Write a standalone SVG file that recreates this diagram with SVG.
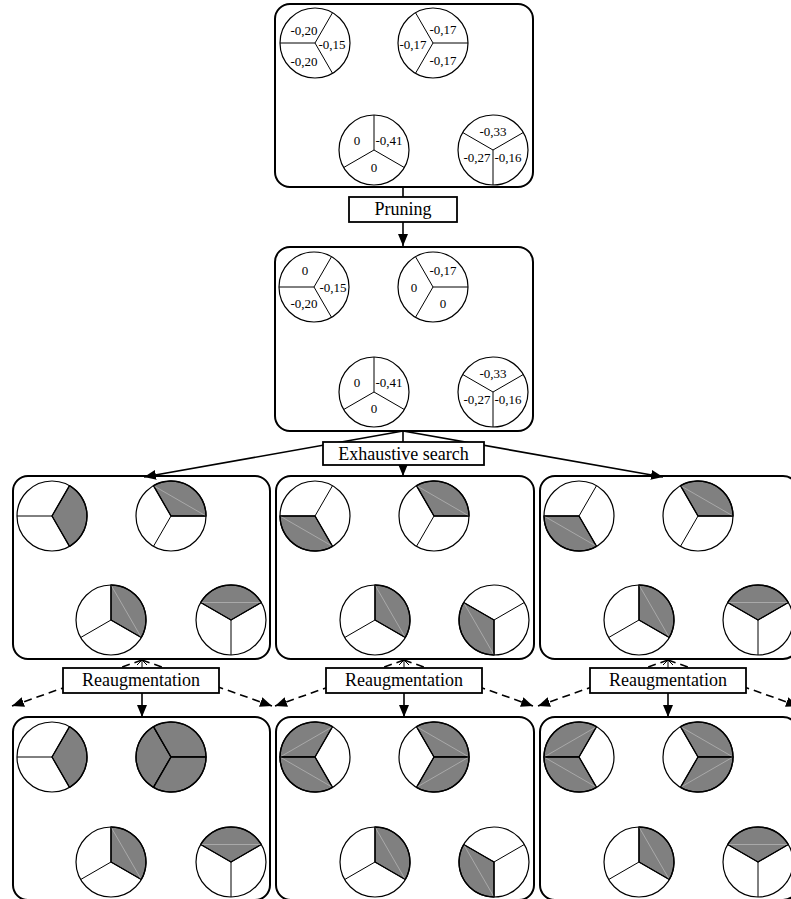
<svg xmlns="http://www.w3.org/2000/svg" width="791" height="899" viewBox="0 0 791 899">
<style>
.box{fill:none;stroke:#000;stroke-width:2}
.lbox{fill:#fff;stroke:#000;stroke-width:1.8}
.lt{font-family:"Liberation Serif","Times New Roman",serif;font-size:18px;text-anchor:middle;fill:#000}
.num{font-family:"Liberation Serif","Times New Roman",serif;font-size:13px;text-anchor:middle;fill:#000}
.dk{fill:#fff;stroke:none}
.rg{fill:none;stroke:#000;stroke-width:1.2}
.ln{fill:none;stroke:#000;stroke-width:1}
.sh{fill:#808080;stroke:#000;stroke-width:1.4;stroke-linejoin:round}
.ch{fill:none;stroke:#c4c4c4;stroke-width:0.6}
.cn{fill:none;stroke:#000;stroke-width:1.6}
.dash{fill:none;stroke:#000;stroke-width:1.6;stroke-dasharray:8,5}
</style>
<defs>
<marker id="ah" viewBox="0 0 12 10" refX="12" refY="5" markerWidth="12" markerHeight="10" markerUnits="userSpaceOnUse" orient="auto"><path d="M0,0 L12,5 L0,10 z" fill="#000" stroke="none"/></marker>
<circle id="disk" r="35"/>
<circle id="ring" r="35"/>
<path id="A_TL" d="M0,0 L-35,0 A35,35 0 0,1 17.5,-30.31 Z"/>
<path id="A_R" d="M0,0 L17.5,-30.31 A35,35 0 0,1 17.5,30.31 Z"/>
<path id="A_BL" d="M0,0 L17.5,30.31 A35,35 0 0,1 -35,0 Z"/>
<path id="B_L" d="M0,0 L-17.5,30.31 A35,35 0 0,1 -17.5,-30.31 Z"/>
<path id="B_TR" d="M0,0 L-17.5,-30.31 A35,35 0 0,1 35,0 Z"/>
<path id="B_BR" d="M0,0 L35,0 A35,35 0 0,1 -17.5,30.31 Z"/>
<path id="C_R" d="M0,0 L0,-35 A35,35 0 0,1 30.31,17.5 Z"/>
<path id="D_T" d="M0,0 L-30.31,-17.5 A35,35 0 0,1 30.31,-17.5 Z"/>
<path id="D_BL" d="M0,0 L0,35 A35,35 0 0,1 -30.31,-17.5 Z"/>
<path id="lA" d="M0,0 L-35,0 M0,0 L17.5,-30.31 M0,0 L17.5,30.31"/>
<path id="lB" d="M0,0 L35,0 M0,0 L-17.5,-30.31 M0,0 L-17.5,30.31"/>
<path id="lC" d="M0,0 L0,-35 M0,0 L-30.31,17.5 M0,0 L30.31,17.5"/>
<path id="lD" d="M0,0 L0,35 M0,0 L-30.31,-17.5 M0,0 L30.31,-17.5"/>
<path id="cA_TL" d="M-35,0 L17.5,-30.31"/>
<path id="cA_BL" d="M17.5,30.31 L-35,0"/>
<path id="cB_TR" d="M-17.5,-30.31 L35,0"/>
<path id="cB_BR" d="M35,0 L-17.5,30.31"/>
<path id="cC_R" d="M0,-35 L30.31,17.5"/>
<path id="cD_T" d="M-30.31,-17.5 L30.31,-17.5"/>
<path id="cD_BL" d="M0,35 L-30.31,-17.5"/>
</defs>

<g id="connectors">
<line class="cn" x1="403" y1="187" x2="403" y2="197"/>
<line class="cn" x1="403" y1="222" x2="403" y2="246" marker-end="url(#ah)"/>
<line class="cn" x1="403" y1="431" x2="144" y2="477" marker-end="url(#ah)"/>
<line class="cn" x1="403" y1="431" x2="403" y2="476" marker-end="url(#ah)"/>
<line class="cn" x1="403" y1="431" x2="663" y2="477" marker-end="url(#ah)"/>
<line class="cn" x1="142" y1="693" x2="142" y2="717" marker-end="url(#ah)"/>
<line class="cn" x1="404" y1="693" x2="404" y2="717" marker-end="url(#ah)"/>
<line class="cn" x1="668" y1="693" x2="668" y2="717" marker-end="url(#ah)"/>
<path class="ln" d="M137,665 L142,660 L147,665 M142,660 L142,668"/>
<path class="ln" d="M399,665 L404,660 L409,665 M404,660 L404,668"/>
<path class="ln" d="M663,665 L668,660 L673,665 M668,660 L668,668"/>
<line class="dash" x1="142" y1="660" x2="12" y2="706" marker-end="url(#ah)"/>
<line class="dash" x1="142" y1="660" x2="272" y2="706" marker-end="url(#ah)"/>
<line class="dash" x1="404" y1="660" x2="275" y2="706" marker-end="url(#ah)"/>
<line class="dash" x1="404" y1="660" x2="533" y2="706" marker-end="url(#ah)"/>
<line class="dash" x1="668" y1="660" x2="538" y2="706" marker-end="url(#ah)"/>
<line class="dash" x1="668" y1="660" x2="798" y2="706" marker-end="url(#ah)"/>
</g>

<g id="n-initial">
<rect class="box" x="275" y="4" width="258" height="183" rx="15"/>
<g transform="translate(315,43)"><use class="dk" href="#disk"/><use class="ln" href="#lA"/><use class="rg" href="#ring"/></g>
<g transform="translate(433,43)"><use class="dk" href="#disk"/><use class="ln" href="#lB"/><use class="rg" href="#ring"/></g>
<g transform="translate(374,150)"><use class="dk" href="#disk"/><use class="ln" href="#lC"/><use class="rg" href="#ring"/></g>
<g transform="translate(493,150)"><use class="dk" href="#disk"/><use class="ln" href="#lD"/><use class="rg" href="#ring"/></g>
<text class="num" x="304" y="34.5">-0,20</text>
<text class="num" x="332" y="48.5">-0,15</text>
<text class="num" x="304" y="65.5">-0,20</text>
<text class="num" x="413" y="48.5">-0,17</text>
<text class="num" x="443" y="33.5">-0,17</text>
<text class="num" x="443" y="64.5">-0,17</text>
<text class="num" x="357" y="144.5">0</text>
<text class="num" x="389" y="144.5">-0,41</text>
<text class="num" x="374" y="171.5">0</text>
<text class="num" x="493" y="135.5">-0,33</text>
<text class="num" x="477" y="161.5">-0,27</text>
<text class="num" x="508" y="161.5">-0,16</text>
</g>

<g id="n-pruning">
<rect class="lbox" x="349" y="197" width="108" height="25"/>
<text class="lt" x="403" y="215">Pruning</text>
</g>

<g id="n-pruned">
<rect class="box" x="275" y="247" width="258" height="184" rx="15"/>
<g transform="translate(314,287)"><use class="dk" href="#disk"/><use class="ln" href="#lA"/><use class="rg" href="#ring"/></g>
<g transform="translate(433,287)"><use class="dk" href="#disk"/><use class="ln" href="#lB"/><use class="rg" href="#ring"/></g>
<g transform="translate(374,392)"><use class="dk" href="#disk"/><use class="ln" href="#lC"/><use class="rg" href="#ring"/></g>
<g transform="translate(493,392)"><use class="dk" href="#disk"/><use class="ln" href="#lD"/><use class="rg" href="#ring"/></g>
<text class="num" x="305" y="274.5">0</text>
<text class="num" x="333" y="291.5">-0,15</text>
<text class="num" x="304" y="307.5">-0,20</text>
<text class="num" x="414" y="291.5">0</text>
<text class="num" x="443" y="274.5">-0,17</text>
<text class="num" x="443" y="307.5">0</text>
<text class="num" x="357" y="386.5">0</text>
<text class="num" x="389" y="386.5">-0,41</text>
<text class="num" x="374" y="412.5">0</text>
<text class="num" x="493" y="377.5">-0,33</text>
<text class="num" x="477" y="403.5">-0,27</text>
<text class="num" x="508" y="403.5">-0,16</text>
</g>

<g id="n-exhaustive">
<rect class="lbox" x="323" y="442" width="161" height="23"/>
<text class="lt" x="403.5" y="459.5">Exhaustive search</text>
</g>

<g id="n-search1">
<rect class="box" x="13" y="476" width="257" height="183" rx="15"/>
<g transform="translate(52,516)"><use class="dk" href="#disk"/><use class="sh" href="#A_R"/><use class="ln" href="#lA"/><use class="rg" href="#ring"/></g>
<g transform="translate(171,516)"><use class="dk" href="#disk"/><use class="sh" href="#B_TR"/><use class="ch" href="#cB_TR"/><use class="ln" href="#lB"/><use class="rg" href="#ring"/></g>
<g transform="translate(111,620)"><use class="dk" href="#disk"/><use class="sh" href="#C_R"/><use class="ch" href="#cC_R"/><use class="ln" href="#lC"/><use class="rg" href="#ring"/></g>
<g transform="translate(231,620)"><use class="dk" href="#disk"/><use class="sh" href="#D_T"/><use class="ch" href="#cD_T"/><use class="ln" href="#lD"/><use class="rg" href="#ring"/></g>
</g>

<g id="n-search2">
<rect class="box" x="276" y="476" width="258" height="183" rx="15"/>
<g transform="translate(315,516)"><use class="dk" href="#disk"/><use class="sh" href="#A_BL"/><use class="ch" href="#cA_BL"/><use class="ln" href="#lA"/><use class="rg" href="#ring"/></g>
<g transform="translate(434,516)"><use class="dk" href="#disk"/><use class="sh" href="#B_TR"/><use class="ch" href="#cB_TR"/><use class="ln" href="#lB"/><use class="rg" href="#ring"/></g>
<g transform="translate(375,620)"><use class="dk" href="#disk"/><use class="sh" href="#C_R"/><use class="ch" href="#cC_R"/><use class="ln" href="#lC"/><use class="rg" href="#ring"/></g>
<g transform="translate(494,620)"><use class="dk" href="#disk"/><use class="sh" href="#D_BL"/><use class="ch" href="#cD_BL"/><use class="ln" href="#lD"/><use class="rg" href="#ring"/></g>
</g>

<g id="n-search3">
<rect class="box" x="540" y="476" width="258" height="183" rx="15"/>
<g transform="translate(579,516)"><use class="dk" href="#disk"/><use class="sh" href="#A_BL"/><use class="ch" href="#cA_BL"/><use class="ln" href="#lA"/><use class="rg" href="#ring"/></g>
<g transform="translate(698,516)"><use class="dk" href="#disk"/><use class="sh" href="#B_TR"/><use class="ch" href="#cB_TR"/><use class="ln" href="#lB"/><use class="rg" href="#ring"/></g>
<g transform="translate(639,620)"><use class="dk" href="#disk"/><use class="sh" href="#C_R"/><use class="ch" href="#cC_R"/><use class="ln" href="#lC"/><use class="rg" href="#ring"/></g>
<g transform="translate(758,620)"><use class="dk" href="#disk"/><use class="sh" href="#D_T"/><use class="ch" href="#cD_T"/><use class="ln" href="#lD"/><use class="rg" href="#ring"/></g>
</g>

<g id="n-reaug1">
<rect class="lbox" x="63" y="668" width="156" height="25"/>
<text class="lt" x="141" y="686">Reaugmentation</text>
</g>
<g id="n-reaug2">
<rect class="lbox" x="326" y="668" width="156" height="25"/>
<text class="lt" x="404" y="686">Reaugmentation</text>
</g>
<g id="n-reaug3">
<rect class="lbox" x="590" y="668" width="156" height="25"/>
<text class="lt" x="668" y="686">Reaugmentation</text>
</g>

<g id="n-result1">
<rect class="box" x="13" y="717" width="257" height="183" rx="15"/>
<g transform="translate(52,757)"><use class="dk" href="#disk"/><use class="sh" href="#A_R"/><use class="ln" href="#lA"/><use class="rg" href="#ring"/></g>
<g transform="translate(171,757)"><use class="dk" href="#disk"/><use class="sh" href="#B_L"/><use class="sh" href="#B_TR"/><use class="sh" href="#B_BR"/><use class="ln" href="#lB"/><use class="rg" href="#ring"/></g>
<g transform="translate(111,862)"><use class="dk" href="#disk"/><use class="sh" href="#C_R"/><use class="ch" href="#cC_R"/><use class="ln" href="#lC"/><use class="rg" href="#ring"/></g>
<g transform="translate(231,862)"><use class="dk" href="#disk"/><use class="sh" href="#D_T"/><use class="ch" href="#cD_T"/><use class="ln" href="#lD"/><use class="rg" href="#ring"/></g>
</g>

<g id="n-result2">
<rect class="box" x="276" y="717" width="258" height="183" rx="15"/>
<g transform="translate(315,757)"><use class="dk" href="#disk"/><use class="sh" href="#A_TL"/><use class="sh" href="#A_BL"/><use class="ch" href="#cA_TL"/><use class="ch" href="#cA_BL"/><use class="ln" href="#lA"/><use class="rg" href="#ring"/></g>
<g transform="translate(434,757)"><use class="dk" href="#disk"/><use class="sh" href="#B_TR"/><use class="sh" href="#B_BR"/><use class="ch" href="#cB_TR"/><use class="ch" href="#cB_BR"/><use class="ln" href="#lB"/><use class="rg" href="#ring"/></g>
<g transform="translate(375,862)"><use class="dk" href="#disk"/><use class="sh" href="#C_R"/><use class="ch" href="#cC_R"/><use class="ln" href="#lC"/><use class="rg" href="#ring"/></g>
<g transform="translate(494,862)"><use class="dk" href="#disk"/><use class="sh" href="#D_BL"/><use class="ch" href="#cD_BL"/><use class="ln" href="#lD"/><use class="rg" href="#ring"/></g>
</g>

<g id="n-result3">
<rect class="box" x="540" y="717" width="258" height="183" rx="15"/>
<g transform="translate(579,757)"><use class="dk" href="#disk"/><use class="sh" href="#A_TL"/><use class="sh" href="#A_BL"/><use class="ch" href="#cA_TL"/><use class="ch" href="#cA_BL"/><use class="ln" href="#lA"/><use class="rg" href="#ring"/></g>
<g transform="translate(698,757)"><use class="dk" href="#disk"/><use class="sh" href="#B_TR"/><use class="sh" href="#B_BR"/><use class="ch" href="#cB_TR"/><use class="ch" href="#cB_BR"/><use class="ln" href="#lB"/><use class="rg" href="#ring"/></g>
<g transform="translate(639,862)"><use class="dk" href="#disk"/><use class="sh" href="#C_R"/><use class="ch" href="#cC_R"/><use class="ln" href="#lC"/><use class="rg" href="#ring"/></g>
<g transform="translate(758,862)"><use class="dk" href="#disk"/><use class="sh" href="#D_T"/><use class="ch" href="#cD_T"/><use class="ln" href="#lD"/><use class="rg" href="#ring"/></g>
</g>
</svg>
